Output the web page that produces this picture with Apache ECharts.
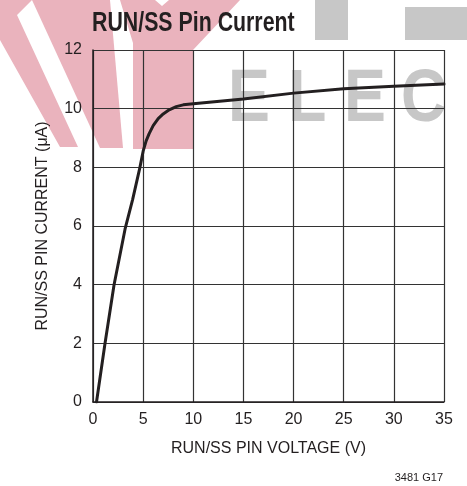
<!DOCTYPE html>
<html>
<head>
<meta charset="utf-8">
<script src="https://cdn.jsdelivr.net/npm/echarts@6/dist/echarts.min.js"></script>
<style>html,body{margin:0;padding:0;background:#fff}#c{width:467px;height:486px}</style>
</head>
<body>
<div id="c"></div>
<script>
// ---- data ----
var voltage = [0.35, 1.2, 2.1, 3.2, 3.95, 4.68, 5.0, 5.3, 5.6, 6.0, 6.5, 7.0, 7.6, 8.3, 9.0, 10.0, 15, 20, 25, 30, 35];
var current = [0, 2.0, 4.0, 5.9, 6.9, 8.0, 8.55, 8.9, 9.15, 9.42, 9.66, 9.82, 9.96, 10.07, 10.13, 10.17, 10.33, 10.53, 10.68, 10.76, 10.84];
var xTicks = [0, 5, 10, 15, 20, 25, 30, 35];
var yTicks = [0, 2, 4, 6, 8, 10, 12];
var titleText = 'RUN/SS Pin Current';
var xName = 'RUN/SS PIN VOLTAGE (V)';
var yName = 'RUN/SS PIN CURRENT (\u03bcA)';
var noteText = '3481 G17';
var watermark = ['E', 'L', 'E', 'C'];

var ink = '#231f20';
var pink = '#eab3bd';
var gray = '#c7c7c7';
var sans = '"Liberation Sans",Arial,sans-serif';

var pts = voltage.map(function (v, i) { return [v, current[i]]; });

var wmX = [228, 288, 344, 401];
var graphics = [
  {type: 'polygon', z: -10, shape: {points: [[0,0],[32,0],[17,15],[78,147],[60,147],[0,40]]}, style: {fill: pink}},
  {type: 'polygon', z: -10, shape: {points: [[32,0],[110,0],[123,148],[100,148]]}, style: {fill: pink}},
  {type: 'polygon', z: -10, shape: {points: [[120,0],[155,0],[162,6],[169,0],[240,0],[193,50],[193,149],[133,149],[133,43]]}, style: {fill: pink}},
  {type: 'rect', z: -10, shape: {x: 315, y: 0, width: 33, height: 40}, style: {fill: gray}},
  {type: 'rect', z: -10, shape: {x: 405, y: 7, width: 62, height: 33}, style: {fill: gray}}
];
watermark.forEach(function (ch, i) {
  graphics.push({type: 'text', z: -10, x: wmX[i], y: 101, scaleX: 0.85,
    style: {text: ch, fill: gray, font: 'bold 74px "Liberation Sans",Arial,sans-serif', textAlign: 'left', textVerticalAlign: 'middle'}});
});
// title (condensed look via horizontal scale)
graphics.push({type: 'text', x: 92, y: 24, scaleX: 0.79, z: 5,
  style: {text: titleText, fill: ink, font: 'bold 27px "Liberation Sans",Arial,sans-serif', textAlign: 'left', textVerticalAlign: 'middle'}});
graphics.push({type: 'text', right: 24, top: 472,
  style: {text: noteText, fill: ink, font: '11px ' + sans, textAlign: 'right'}});

var chart = echarts.init(document.getElementById('c'), null, {renderer: 'canvas'});
chart.setOption({
  animation: false,
  backgroundColor: '#fff',
  graphic: graphics,
  grid: {left: 93, right: 23, top: 50, bottom: 84, containLabel: false},
  xAxis: {
    type: 'value', min: xTicks[0], max: xTicks[xTicks.length - 1], interval: 5,
    name: xName, nameLocation: 'middle', nameGap: 39,
    nameTextStyle: {color: ink, fontSize: 16, fontFamily: sans},
    axisLine: {lineStyle: {color: ink, width: 1.5}},
    axisTick: {show: false},
    axisLabel: {color: ink, fontSize: 16, fontFamily: sans, margin: 10},
    splitLine: {show: true, lineStyle: {color: '#333', width: 1.2}}
  },
  yAxis: {
    type: 'value', min: yTicks[0], max: yTicks[yTicks.length - 1], interval: 2,
    name: yName, nameLocation: 'middle', nameGap: 42, nameRotate: 90,
    nameTextStyle: {color: ink, fontSize: 16, fontFamily: sans},
    axisLine: {show: true, lineStyle: {color: ink, width: 1.5}},
    axisTick: {show: false},
    axisLabel: {color: ink, fontSize: 16, fontFamily: sans, margin: 11},
    splitLine: {show: true, lineStyle: {color: '#333', width: 1.2}}
  },
  series: [{
    type: 'line', data: pts, showSymbol: false, smooth: false,
    lineStyle: {color: ink, width: 3, join: 'round', cap: 'round'}
  }]
});
</script>
</body>
</html>
